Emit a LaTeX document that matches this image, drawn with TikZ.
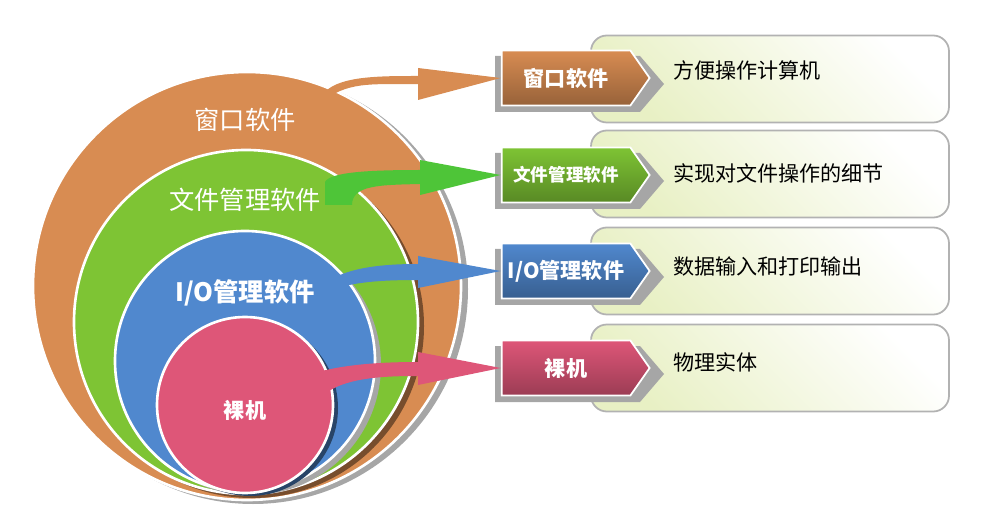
\documentclass[tikz,border=0pt]{standalone}
\usepackage{fontspec}
\setmainfont{Noto Sans CJK SC}
\usetikzlibrary{shapes.symbols,arrows.meta}
\definecolor{cbrown}{RGB}{216,140,82}
\definecolor{cgreen}{RGB}{126,196,52}
\definecolor{cblue}{RGB}{80,136,206}
\definecolor{cpink}{RGB}{222,86,120}
\definecolor{cpale}{RGB}{232,240,196}
\tikzset{
  ring/.style={draw=white,line width=1.5pt,fill=#1},
  shade/.style={fill=gray!70},
  tag/.style={signal,signal to=east,signal pointer angle=110,minimum width=148\unitpx,
    minimum height=55\unitpx,draw=white,line width=1pt,text=white,font=\large\bfseries,
    inner sep=2pt,top color=#1,bottom color=#1!70!black},
  descbox/.style={draw=gray!60,line width=1pt,rounded corners=9pt,
    left color=cpale,right color=white,shading angle=135,minimum width=358\unitpx,minimum height=87\unitpx},
  desc/.style={font=\large,anchor=west},
  flow/.style={draw=none,fill=#1}
}
\newlength{\unitpx}\setlength{\unitpx}{0.02cm}
\begin{document}
\begin{tikzpicture}[x=0.02cm,y=-0.02cm]
\useasboundingbox (0,0) rectangle (993,506);
% rings
\fill[shade] (253,289) circle (215);
\draw[ring=cbrown] (247,286) circle (214);
\fill[cbrown!55!black] (252,326) circle (172);
\draw[ring=cgreen] (246,322) circle (172);
\fill[shade] (251,365) circle (130);
\draw[ring=cblue] (245,361) circle (130);
\fill[cblue!50!black] (250,408) circle (88);
\draw[ring=cpink] (245,405) circle (88);
\node[text=white,font=\Large] (win) at (245,120) {窗口软件};
\node[text=white,font=\Large] (file) at (245,200) {文件管理软件};
\node[text=white,font=\Large\bfseries] (io) at (245,293) {I/O管理软件};
\node[text=white,font=\large\bfseries] (bare) at (245,410) {裸机};
% description boxes
\foreach \y/\n in {79/d1,174/d2,271/d3,368/d4}
  \node[descbox] (\n) at (770,\y) {};
\node[desc] (t1) at (667,70) {方便操作计算机};
\node[desc] (t2) at (667,173) {实现对文件操作的细节};
\node[desc] (t3) at (667,266) {数据输入和打印输出};
\node[desc] (t4) at (667,362) {物理实体};
% tags
\foreach \y/\n in {80/g1,177/g2,273/g3,370/g4}
  \fill[gray!70] (495,\y-24) -- (640,\y-24) -- (664,\y+4) -- (640,\y+32) -- (495,\y+32) -- cycle;
\node[tag=cbrown] (g1) at (566,78) {窗口软件};
\node[tag=cgreen] (g2) at (566,175) {\normalsize 文件管理软件};
\node[tag=cblue] (g3) at (566,271) {I/O管理软件};
\node[tag=cpink] (g4) at (566,368) {裸机};
% flows
\fill[cbrown] (325,100) .. controls (350,80) and (380,85) .. (418,84) -- (418,100)
  -- (g1.west) -- (418,68) -- (418,76) .. controls (380,76) and (340,76) .. (325,92) -- cycle;
\fill[green!55!gray!70!cgreen] (325,205) -- (352,205) .. controls (352,185) and (380,185) .. (420,184)
  -- (420,195) -- (g2.west) -- (420,160) -- (420,170) .. controls (370,170) and (330,172) .. (325,182) -- cycle;
\fill[cblue] (330,290) .. controls (355,282) and (380,280) .. (418,280) -- (418,288)
  -- (g3.west) -- (418,256) -- (418,264) .. controls (380,264) and (350,268) .. (330,280) -- cycle;
\fill[cpink] (300,398) -- (320,398) .. controls (340,378) and (380,376) .. (418,376) -- (418,385)
  -- (g4.west) -- (418,352) -- (418,362) .. controls (370,362) and (330,366) .. (300,378) -- cycle;
\end{tikzpicture}
\end{document}
